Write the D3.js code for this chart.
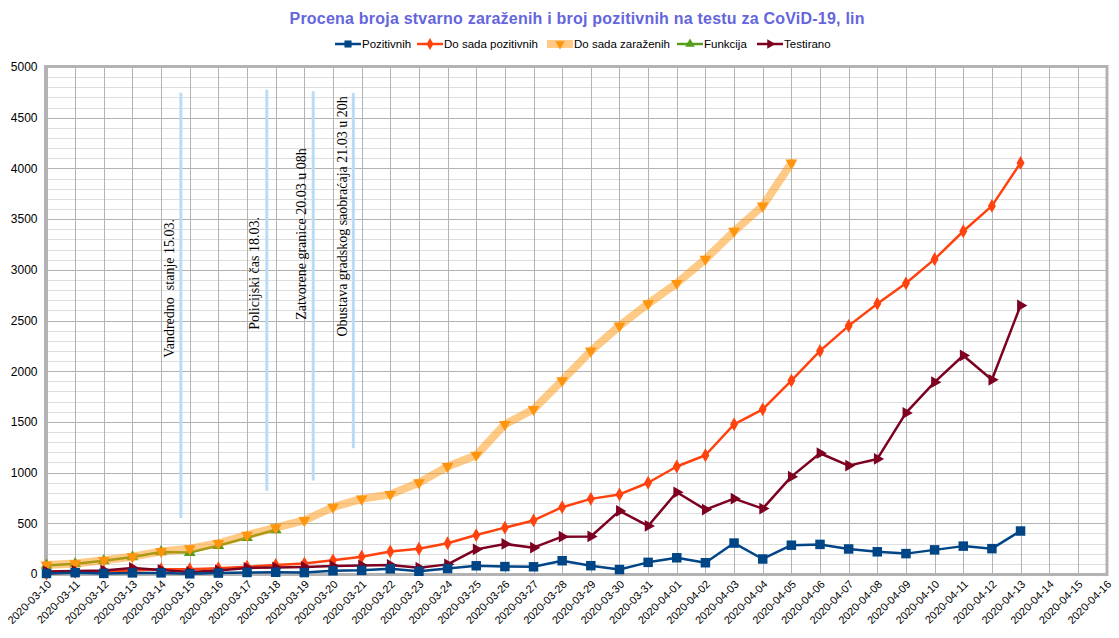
<!DOCTYPE html>
<html><head><meta charset="utf-8">
<script src="https://cdn.jsdelivr.net/npm/d3@7"></script>
<style>body{margin:0;background:#fff}svg{display:block}</style>
</head><body>
<svg id="c" width="1119" height="638"></svg>
<script>
const dates = ["2020-03-10","2020-03-11","2020-03-12","2020-03-13","2020-03-14","2020-03-15","2020-03-16","2020-03-17","2020-03-18","2020-03-19","2020-03-20","2020-03-21","2020-03-22","2020-03-23","2020-03-24","2020-03-25","2020-03-26","2020-03-27","2020-03-28","2020-03-29","2020-03-30","2020-03-31","2020-04-01","2020-04-02","2020-04-03","2020-04-04","2020-04-05","2020-04-06","2020-04-07","2020-04-08","2020-04-09","2020-04-10","2020-04-11","2020-04-12","2020-04-13","2020-04-14","2020-04-15","2020-04-16"];
const yTicks = [0,500,1000,1500,2000,2500,3000,3500,4000,4500,5000];
const pozitivnih = [5,13,6,11,11,2,9,15,17,14,32,36,51,27,54,81,73,71,131,82,44,115,160,111,305,148,284,292,247,219,201,238,275,250,424];
const doSadaPozitivnih = [5,18,24,35,46,48,57,72,89,103,135,171,222,249,303,384,457,528,659,741,785,900,1060,1171,1476,1624,1908,2200,2447,2666,2867,3105,3380,3630,4054];
const doSadaZarazenih = [89,103,135,171,222,249,303,384,457,528,659,741,785,900,1060,1171,1476,1624,1908,2200,2447,2666,2867,3105,3380,3630,4054];
const funkcija = [85,100,130,168,218,212,280,358,436];
const testirano = [25,30,35,60,40,20,35,60,65,70,80,85,89,62,95,243,296,260,368,370,622,474,806,635,743,645,960,1191,1069,1135,1589,1892,2155,1915,2648];
const seriesNames = ["Pozitivnih","Do sada pozitivnih","Do sada zaraženih","Funkcija","Testirano"];
// annotations: text, line position (day index), line top/bottom value, text position (day index), text start value
const annText = ["Vandredno  stanje 15.03.","Policijski čas 18.03.","Zatvorene granice 20.03 u 08h","Obustava gradskog saobraćaja 21.03 u 20h"];
const annLineX = [4.69,7.69,9.31,10.71];
const annLineTop = [4747,4776,4760,4744];
const annLineBottom = [553,822,921,1240];
const annTextX = [4.31,7.25,8.91,10.32];
const annTextStart = [2132,2408,2507,2342];

const svg = d3.select("#c");
const L=46.5,R=1106.5,T=67,B=574;
const x = d3.scalePoint().domain(dates).range([L,R]);
const xi = d3.scaleLinear().domain([0,dates.length-1]).range([L,R]);
const y = d3.scaleLinear().domain([0,5000]).range([B,T]);

// grid
const g = svg.append("g");
g.selectAll(".mn").data(y.ticks(50)).join("line")
  .attr("x1",L).attr("x2",R).attr("y1",d=>Math.round(y(d))+0.5).attr("y2",d=>Math.round(y(d))+0.5)
  .attr("stroke","#dedede").attr("stroke-width",1);
g.selectAll(".mj").data(yTicks).join("line")
  .attr("x1",L).attr("x2",R).attr("y1",d=>Math.round(y(d))+0.5).attr("y2",d=>Math.round(y(d))+0.5)
  .attr("stroke","#b3b3b3").attr("stroke-width",1);
g.selectAll(".vx").data(dates).join("line")
  .attr("x1",d=>Math.round(x(d))+0.5).attr("x2",d=>Math.round(x(d))+0.5).attr("y1",T).attr("y2",B)
  .attr("stroke","#b3b3b3").attr("stroke-width",1);
svg.append("rect").attr("x",L-1).attr("y",T-0.5).attr("width",R-L+1.5).attr("height",B-T+1)
  .attr("fill","none").attr("stroke","#b3b3b3").attr("stroke-width",3);

// axes
const ya = svg.append("g").attr("transform",`translate(${L},0)`)
  .call(d3.axisLeft(y).tickValues(yTicks).tickFormat(d3.format("d")).tickSize(0).tickPadding(9));
ya.select(".domain").remove();
ya.selectAll("text").attr("font-family","'Liberation Sans',Arial,sans-serif").attr("font-size",12).attr("fill","#000");
const xa = svg.append("g").attr("transform",`translate(0,${B})`)
  .call(d3.axisBottom(x).tickSize(0).tickPadding(0));
xa.select(".domain").remove();
xa.selectAll("text").attr("font-family","'Liberation Sans',Arial,sans-serif").attr("font-size",11).attr("fill","#000")
  .attr("text-anchor","end").attr("dy",0).attr("y",0)
  .attr("transform","translate(5,11) rotate(-45)");

// annotations
const ann = svg.append("g");
annText.forEach((t,i)=>{
  ann.append("line").attr("x1",xi(annLineX[i])).attr("x2",xi(annLineX[i]))
    .attr("y1",y(annLineTop[i])).attr("y2",y(annLineBottom[i]))
    .attr("stroke","#b9dcf5").attr("stroke-width",3);
  ann.append("text").attr("transform",`translate(${xi(annTextX[i])},${y(annTextStart[i])}) rotate(-90)`)
    .attr("dominant-baseline","central").attr("font-family","'Liberation Serif','Times New Roman',serif")
    .attr("font-size",14).attr("fill","#000").style("white-space","pre").text(t);
});

const line = d3.line().x((d,i)=>x(dates[i])).y(d=>y(d));
const sym = (type,size)=>d3.symbol().type(type).size(size)();

function drawSeries(data,color,width,markerColor,markerPath,rot,opacity){
  const s = svg.append("g");
  s.append("path").datum(data).attr("d",line).attr("fill","none").attr("stroke",color)
    .attr("stroke-width",width).attr("stroke-linejoin","round").attr("stroke-linecap","round")
    .attr("stroke-opacity",opacity||1);
  s.selectAll("path.m").data(data).join("path").attr("class","m")
    .attr("d",markerPath)
    .attr("transform",(d,i)=>`translate(${x(dates[i])},${y(d)}) rotate(${rot})`)
    .attr("fill",markerColor);
}
const cfg = {
  poz:{data:pozitivnih,color:"#004586",width:2.5,mc:"#004586",mp:sym(d3.symbolSquare,90),rot:0,op:1},
  dsp:{data:doSadaPozitivnih,color:"#ff420e",width:2.5,mc:"#ff420e",mp:sym(d3.symbolDiamond,55),rot:0,op:1},
  dsz:{data:doSadaZarazenih,color:"#ff950e",width:8,mc:"#ff950e",mp:sym(d3.symbolTriangle,60),rot:180,op:0.5},
  fun:{data:funkcija,color:"#579d1c",width:2.5,mc:"#579d1c",mp:sym(d3.symbolTriangle,60),rot:0,op:1},
  tes:{data:testirano,color:"#7e0021",width:2.5,mc:"#7e0021",mp:sym(d3.symbolTriangle,60),rot:90,op:1}
};
["fun","dsz","dsp","tes","poz"].forEach(k=>{const c=cfg[k];drawSeries(c.data,c.color,c.width,c.mc,c.mp,c.rot,c.op);});

// title
svg.append("text").attr("x",577).attr("y",24).attr("text-anchor","middle")
  .attr("font-family","'Liberation Sans',Arial,sans-serif").attr("font-weight","bold").attr("font-size",16)
  .attr("textLength",575).attr("lengthAdjust","spacing")
  .attr("fill","#6565dd").text("Procena broja stvarno zaraženih i broj pozitivnih na testu za CoViD-19, lin");

// legend
const legKeys = ["poz","dsp","dsz","fun","tes"];
const legSym = [d3.symbolSquare,d3.symbolDiamond,d3.symbolTriangle,d3.symbolTriangle,d3.symbolTriangle];
const legX = [335,417,547,677,757];
const lg = svg.append("g");
seriesNames.forEach((n,i)=>{
  const c = cfg[legKeys[i]];
  const gx = legX[i], gy = 44;
  lg.append("line").attr("x1",gx).attr("x2",gx+26).attr("y1",gy).attr("y2",gy)
    .attr("stroke",c.color).attr("stroke-width",i===2?8:2.5).attr("stroke-opacity",c.op);
  lg.append("path").attr("d",d3.symbol().type(legSym[i]).size(i===0?50:40)())
    .attr("transform",`translate(${gx+13},${gy}) rotate(${c.rot})`).attr("fill",c.mc);
  lg.append("text").attr("x",gx+27).attr("y",gy).attr("dominant-baseline","central")
    .attr("font-family","'Liberation Sans',Arial,sans-serif").attr("font-size",11.5).attr("fill","#000").text(n);
});
</script>
</body></html>
